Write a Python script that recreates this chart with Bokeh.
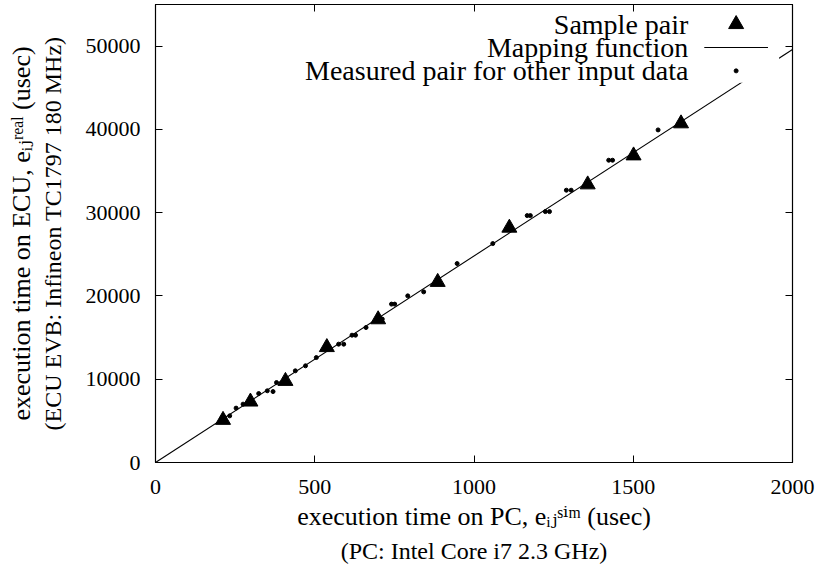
from bokeh.plotting import figure
from bokeh.models import Range1d, FixedTicker, LinearAxis, Label, BoxAnnotation, Title
from bokeh.embed import file_html
from bokeh.resources import INLINE

# ---------------- data ----------------
sample_x = [212, 298, 408, 538, 699, 886, 1111, 1357, 1501, 1650]
sample_y = [5100, 7300, 9780, 13840, 17180, 21670, 28180, 33380, 36860, 40710]

measured_x = [233, 253, 275, 324, 351, 369, 380, 439, 471, 505, 575, 591,
              617, 628, 661, 712, 741, 751, 792, 842, 947, 1059, 1167, 1177,
              1224, 1237, 1290, 1305, 1423, 1435, 1578]
measured_y = [5600, 6530, 7010, 8280, 8610, 8520, 9600, 11010, 11610, 12600,
              14210, 14210, 15290, 15290, 16210, 17220, 19020, 19020, 20010,
              20490, 23890, 26290, 29650, 29650, 30130, 30130, 32700, 32700,
              36300, 36300, 39940]

mapping_slope = 24.8
mapping_x = [0, 2000]
mapping_y = [mapping_slope * v for v in mapping_x]

x_ticks = [0, 500, 1000, 1500, 2000]
y_ticks = [0, 10000, 20000, 30000, 40000, 50000]

legend_labels = ["Sample pair", "Mapping function", "Measured pair for other input data"]

x_title = "execution time on PC, e\u1d62\u2c7c\u02e2\u2071\u1d50 (usec)"
x_subtitle = "(PC: Intel Core i7 2.3 GHz)"
y_title = "execution time on ECU, e\u1d62\u2c7c\u02b3\u1d49\u1d43\u02e1 (usec)"
y_subtitle = "(ECU EVB: Infineon TC1797 180 MHz)"

# ---------------- styling ----------------
SERIF = "'Liberation Serif', 'Times New Roman', 'DejaVu Serif', serif"
TICK_FS = "22px"
TITLE_FS = "26px"
SUBTITLE_FS = "24px"
KEY_FS = "28px"

p = figure(frame_width=637, frame_height=458,
           x_range=Range1d(0, 2000), y_range=Range1d(0, 55000),
           output_backend="svg", toolbar_location=None,
           min_border_left=155, min_border_right=33,
           min_border_top=4, min_border_bottom=113,
           background_fill_color="white", border_fill_color="white")
p.xgrid.visible = False
p.ygrid.visible = False
p.outline_line_color = "black"
p.outline_line_width = 1.2
p.outline_line_alpha = 1.0


def style_axis(ax, ticks, show_labels, standoff):
    ax.ticker = FixedTicker(ticks=ticks)
    ax.major_tick_in = 7
    ax.major_tick_out = 0
    ax.minor_tick_line_color = None
    ax.axis_line_color = "black"
    ax.major_tick_line_color = "black"
    ax.major_tick_line_width = 1
    ax.major_label_text_font = SERIF
    if show_labels:
        ax.major_label_text_color = "black"
        ax.major_label_text_font_size = TICK_FS
        ax.major_label_standoff = standoff
    else:
        ax.major_label_text_color = None
        ax.major_label_text_font_size = "0px"
        ax.major_label_standoff = 0


xa = p.below[0]
ya = p.left[0]
style_axis(xa, x_ticks, True, 17)
style_axis(ya, y_ticks, True, 15)

xa.axis_label = x_title
xa.axis_label_text_font = SERIF
xa.axis_label_text_font_size = TITLE_FS
xa.axis_label_text_font_style = "normal"
xa.axis_label_text_color = "black"
xa.axis_label_standoff = 5

ya.axis_label = y_subtitle
ya.axis_label_text_font = SERIF
ya.axis_label_text_font_size = SUBTITLE_FS
ya.axis_label_text_font_style = "normal"
ya.axis_label_text_color = "black"
ya.axis_label_standoff = 17

top_axis = LinearAxis()
style_axis(top_axis, x_ticks, False, 0)
p.add_layout(top_axis, "above")
right_axis = LinearAxis()
style_axis(right_axis, y_ticks, False, 0)
p.add_layout(right_axis, "right")

p.add_layout(Title(text=x_subtitle, align="center", text_font=SERIF,
                   text_font_size=SUBTITLE_FS, text_font_style="normal",
                   text_color="black", standoff=4), "below")
p.add_layout(Title(text=y_title, align="center", text_font=SERIF,
                   text_font_size=TITLE_FS, text_font_style="normal",
                   text_color="black", standoff=2), "left")

# ---------------- data marks ----------------
p.line(mapping_x, mapping_y, line_color="black", line_width=1.1)
p.scatter(measured_x, measured_y, marker="circle", size=4,
          fill_color="black", line_color="black")
p.scatter(sample_x, sample_y, marker="triangle", size=15,
          fill_color="black", line_color="black")

# ---------------- key (gnuplot style: text then sample) ----------------
key_rows_y = [52630, 49830, 47030]
key_text_x = 1673
key_sample_x = 1823
key_line_half = 100

p.add_layout(BoxAnnotation(left=1790, right=1958, bottom=45600, top=51200,
                           fill_color="white", fill_alpha=1.0, line_color=None))
for txt, yy in zip(legend_labels, key_rows_y):
    p.add_layout(Label(x=key_text_x, y=yy, text=txt, text_font=SERIF,
                       text_font_size=KEY_FS, text_align="right",
                       text_baseline="middle", text_color="black"))
p.scatter([key_sample_x], [key_rows_y[0]], marker="triangle", size=15,
          fill_color="black", line_color="black", level="overlay")
p.line([key_sample_x - key_line_half, key_sample_x + key_line_half],
       [key_rows_y[1], key_rows_y[1]], line_color="black", line_width=1.1,
       level="overlay")
p.scatter([key_sample_x], [key_rows_y[2]], marker="circle", size=4,
          fill_color="black", line_color="black", level="overlay")

open("out.html", "w").write(file_html(p, INLINE))
